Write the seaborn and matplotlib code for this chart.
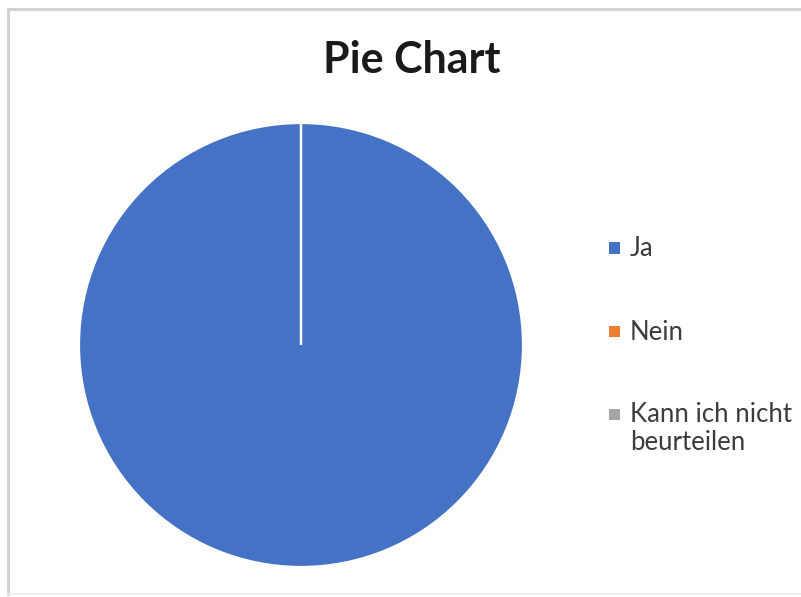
import matplotlib
matplotlib.use("Agg")
import matplotlib.pyplot as plt
from matplotlib.lines import Line2D
from matplotlib.patches import Rectangle
import seaborn as sns

# Survey answers and their shares
categories = ["Ja", "Nein", "Kann ich nicht\nbeurteilen"]
shares = [100, 0, 0]
colors = ["#4472C4", "#ED7D31", "#A5A5A5"]
title = "Pie Chart"

sns.set_theme(style="white")
plt.rcParams["font.family"] = ["Lato", "DejaVu Sans"]

W, H = 801, 597
fig = plt.figure(figsize=(W / 100, H / 100), dpi=100)
fig.patch.set_facecolor("white")


def fx(px):
    return px / W


def fy(py):
    return 1 - py / H


# Pie area: centre (301, 345) px, radius 222 px
cx, cy, r = 301, 345, 222
ax = fig.add_axes([fx(cx - r), (H - cy - r) / H, 2 * r / W, 2 * r / H])
wedges, _ = ax.pie(
    shares,
    colors=colors,
    startangle=90,
    counterclock=False,
    radius=1,
    wedgeprops=dict(edgecolor="white", linewidth=1.6),
)
ax.set_xlim(-1, 1)
ax.set_ylim(-1, 1)
ax.set_aspect("equal")
ax.axis("off")

fig.text(fx(412), fy(73), title, ha="center", va="baseline",
         fontsize=31, fontweight="bold", color="#1a1a1a")

# Legend: square swatch in the wedge colour, label beside it.
# Multi-line labels are anchored on their last baseline, so push them
# down by one line step per extra line to keep the swatch on line one.
key_size = 11
line_step = 28
for i, (label, wedge) in enumerate(zip(categories, wedges)):
    yc = 248 + 83 * i
    extra_lines = label.count("\n")
    fig.add_artist(Rectangle((fx(609), fy(yc + key_size / 2)),
                             key_size / W, key_size / H,
                             facecolor=wedge.get_facecolor(), edgecolor="none",
                             transform=fig.transFigure))
    fig.text(fx(630), fy(yc + 8.5 + extra_lines * line_step), label,
             ha="left", va="baseline",
             fontsize=18.5, color="#3c3c3c", linespacing=1.18)

# Light frame around the chart area
frame_kw = dict(color="#d2d2d2", linewidth=2.2, transform=fig.transFigure)
fig.add_artist(Line2D([fx(7.5), fx(7.5)], [fy(9), fy(594)], **frame_kw))
fig.add_artist(Line2D([fx(7.5), 1.0], [fy(9), fy(9)], **frame_kw))
fig.add_artist(Line2D([fx(7.5), 1.0], [fy(594), fy(594)],
                      color="#ececec", linewidth=1.2, transform=fig.transFigure))

fig.savefig("out.png", dpi=100, facecolor="white")
